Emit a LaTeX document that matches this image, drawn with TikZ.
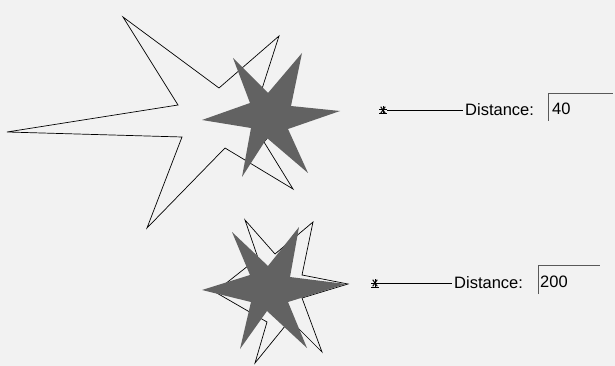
\documentclass[tikz,border=0pt]{standalone}
\usepackage{fontspec}
\setmainfont{Liberation Sans}
\usetikzlibrary{positioning}
\definecolor{panelbg}{RGB}{242,242,242}
\definecolor{starfill}{RGB}{98,98,98}

\begin{document}
\begin{tikzpicture}[x=1pt, y=-1pt,
    outline/.style={draw=black, line width=0.7pt, line join=miter},
    solidstar/.style={fill=starfill, draw=none},
    lbl/.style={font=\fontsize{16.5}{18}\selectfont, inner sep=2pt},
    marker/.style={inner sep=0pt, minimum size=8pt}]
    \fill[panelbg] (0,0) rectangle (615,366);
    \useasboundingbox (0,0) rectangle (615,366);
    % distance 40
    \draw[outline] (7,132) -- (178,105) -- (123,17) -- (219,88) -- (279,36) -- (260,95) -- (285,117)
        -- (264,142) -- (293,189) -- (225,148) -- (147,228) -- (182,137) -- cycle;
    \fill[solidstar] (202,120) -- (250,103) -- (233,58) -- (268,93) -- (302,53) -- (291,106) -- (340,111)
        -- (288,129) -- (308,173) -- (267,138) -- (242,177) -- (251,128) -- cycle;
    % distance 200
    \draw[outline] (245,220) -- (275,254) -- (313,222) -- (302,275) -- (348,284) -- (302,298) -- (322,352)
        -- (290,320) -- (255,363) -- (267,322) -- (215,292) -- (258,258) -- cycle;
    \fill[solidstar] (202,290) -- (250,275) -- (232,232) -- (268,266) -- (299,227) -- (290,277) -- (346,284)
        -- (288,302) -- (307,348) -- (267,311) -- (240,349) -- (251,302) -- cycle;
    % handles and fields
    \node[marker] (ast1) at (383,110) {};
    \node[marker] (ast2) at (375,283) {};
    \foreach \m in {ast1,ast2} {
        \foreach \a in {0,55,90,125} \draw[line width=1pt] (\m.center) ++(\a:4) -- ++(\a+180:8);
        \draw[line width=1pt] (\m.center) ++(-4,4) -- ++(8,0);
    }
    \node[lbl, anchor=west] (lab1) at (463,110) {Distance:};
    \node[lbl, anchor=west] (lab2) at (452,283) {Distance:};
    \draw[line width=0.7pt] (ast1) -- (lab1);
    \draw[line width=0.7pt] (ast2) -- (lab2);
    \node[lbl, anchor=west] (val1) at (550,109) {40};
    \node[lbl, anchor=west] (val2) at (538,282) {200};
    \draw[gray!70!black, line width=0.8pt] (548,121) -- (548,93) -- (613,93);
    \draw[gray!70!black, line width=0.8pt] (538,294) -- (538,265) -- (600,265);
\end{tikzpicture}
\end{document}
